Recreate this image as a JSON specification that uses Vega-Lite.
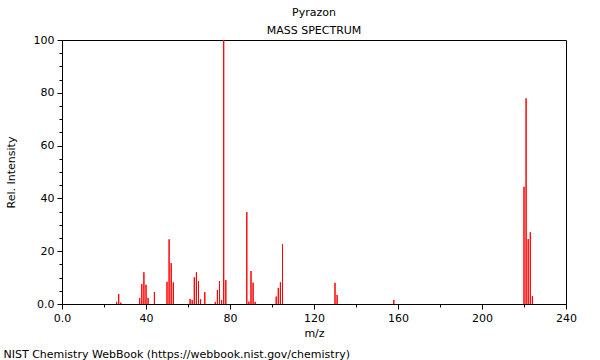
{
  "$schema": "https://vega.github.io/schema/vega-lite/v6.json",
  "width": 504,
  "height": 264,
  "autosize": "none",
  "padding": {"left": 62, "top": 40, "right": 34, "bottom": 56},
  "background": "white",
  "config": {
    "font": "DejaVu Sans",
    "view": {"stroke": "black", "strokeWidth": 1},
    "axis": {
      "domainColor": "black",
      "tickColor": "black",
      "labelColor": "black",
      "titleColor": "black",
      "labelFont": "DejaVu Sans",
      "titleFont": "DejaVu Sans",
      "labelFontSize": 11,
      "titleFontSize": 11,
      "titleFontWeight": "normal",
      "grid": false,
      "labelOverlap": false,
      "labelFlush": false,
      "labelBound": false
    }
  },
  "title": {
    "text": "Pyrazon",
    "subtitle": "MASS SPECTRUM",
    "anchor": "middle",
    "frame": "group",
    "font": "DejaVu Sans",
    "subtitleFont": "DejaVu Sans",
    "fontSize": 11,
    "subtitleFontSize": 11,
    "fontWeight": "normal",
    "color": "black",
    "subtitleColor": "black",
    "offset": -2,
    "subtitlePadding": 7
  },
  "data": {
    "values": [
      {"mz": 26, "intensity": 0.8},
      {"mz": 27, "intensity": 3.8},
      {"mz": 28, "intensity": 0.5},
      {"mz": 37, "intensity": 2.3},
      {"mz": 38, "intensity": 7.6},
      {"mz": 39, "intensity": 12.0},
      {"mz": 40, "intensity": 7.3},
      {"mz": 41, "intensity": 2.3},
      {"mz": 44, "intensity": 4.5},
      {"mz": 50, "intensity": 8.4},
      {"mz": 51, "intensity": 24.5},
      {"mz": 52, "intensity": 15.5},
      {"mz": 53, "intensity": 8.2},
      {"mz": 61, "intensity": 1.9},
      {"mz": 62, "intensity": 1.5},
      {"mz": 63, "intensity": 10.1},
      {"mz": 64, "intensity": 12.0},
      {"mz": 65, "intensity": 8.6},
      {"mz": 66, "intensity": 1.8},
      {"mz": 68, "intensity": 4.5},
      {"mz": 73, "intensity": 0.8},
      {"mz": 74, "intensity": 5.3},
      {"mz": 75, "intensity": 8.7},
      {"mz": 76, "intensity": 1.5},
      {"mz": 77, "intensity": 100},
      {"mz": 78, "intensity": 9.1},
      {"mz": 88, "intensity": 34.8},
      {"mz": 89, "intensity": 0.9},
      {"mz": 90, "intensity": 12.5},
      {"mz": 91, "intensity": 8.1},
      {"mz": 92, "intensity": 0.8},
      {"mz": 102, "intensity": 2.8},
      {"mz": 103, "intensity": 6.1},
      {"mz": 104, "intensity": 8.2},
      {"mz": 105, "intensity": 22.7},
      {"mz": 130, "intensity": 8.0},
      {"mz": 131, "intensity": 3.4},
      {"mz": 158, "intensity": 1.5},
      {"mz": 220, "intensity": 44.4},
      {"mz": 221, "intensity": 77.9},
      {"mz": 222, "intensity": 24.6},
      {"mz": 223, "intensity": 27.2},
      {"mz": 224, "intensity": 3.0}
    ]
  },
  "layer": [
    {
      "mark": {"type": "rule", "color": "#ff0000", "strokeWidth": 1},
      "encoding": {
        "x": {
          "field": "mz",
          "type": "quantitative",
          "title": "m/z",
          "scale": {"domain": [0, 240], "nice": false, "zero": false},
          "axis": {
            "title": "m/z",
            "values": [0,10,20,30,40,50,60,70,80,90,100,110,120,130,140,150,160,170,180,190,200,210,220,230,240],
            "labelExpr": "datum.value % 40 == 0 ? (datum.value == 0 ? '0.0' : datum.label) : ''",
            "tickSize": {"condition": {"test": "datum.value % 40 == 0", "value": 5}, "value": 3},
            "labelPadding": 3,
            "titlePadding": 4
          }
        },
        "y": {
          "field": "intensity",
          "type": "quantitative",
          "scale": {"domain": [0, 100], "nice": false},
          "axis": {
            "title": "Rel. Intensity",
            "values": [0,5,10,15,20,25,30,35,40,45,50,55,60,65,70,75,80,85,90,95,100],
            "labelExpr": "datum.value % 20 == 0 ? (datum.value == 0 ? '0.0' : datum.label) : ''",
            "tickSize": {"condition": {"test": "datum.value % 20 == 0", "value": 5}, "value": 3},
            "labelPadding": 3,
            "titlePadding": 17
          }
        },
        "y2": {"datum": 0}
      }
    },
    {
      "mark": {"type": "rule", "color": "#ff0000", "strokeWidth": 1},
      "encoding": {
        "x": {"field": "mz", "type": "quantitative", "title": "m/z"},
        "y": {
          "field": "intensity",
          "type": "quantitative",
          "axis": {
            "orient": "right",
            "domain": false,
            "ticks": false,
            "labels": false,
            "title": "NIST Chemistry WebBook (https://webbook.nist.gov/chemistry)",
            "titleAngle": 0,
            "titleX": -563,
            "titleY": 317,
            "titleAlign": "left",
            "titleBaseline": "alphabetic",
            "titleFontSize": 11
          }
        },
        "y2": {"datum": 0}
      }
    }
  ],
  "resolve": {"axis": {"y": "independent"}}
}
